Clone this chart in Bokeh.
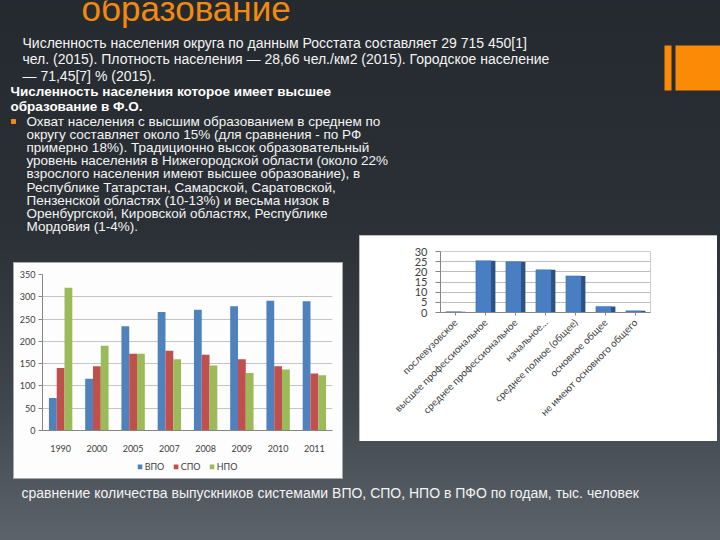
import numpy as np
from bokeh.plotting import figure
from bokeh.layouts import column, row
from bokeh.models import (ColumnDataSource, Range1d, FactorRange, Legend, LegendItem,
                          Spacer, SingleIntervalTicker)
from bokeh.transform import dodge
from bokeh.core.properties import value
from bokeh.embed import file_html
from bokeh.resources import INLINE

# ---------------- data ----------------
years = ["1990", "2000", "2005", "2007", "2008", "2009", "2010", "2011"]
vpo = [73, 116, 234, 266, 271, 279, 291, 290]
spo = [140, 144, 172, 179, 170, 160, 144, 128]
npo = [320, 190, 172, 160, 146, 129, 137, 124]
series_names = ["ВПО", "СПО", "НПО"]

edu_levels = ["послевузовское", "высшее профессиональное", "среднее профессиональное",
              "начальное...", "среднее полное (общее)", "основное общее",
              "не имеют основного общего"]
edu_share = [0.4, 25.5, 25.0, 21.0, 18.0, 3.0, 0.8]

title_text = "образование"
intro_lines = [
    "Численность населения округа по данным Росстата составляет 29 715 450[1]",
    "чел. (2015). Плотность населения — 28,66 чел./км2 (2015). Городское население",
    "— 71,45[7] % (2015).",
]
heading_lines = [
    "Численность населения которое имеет высшее",
    "образование в Ф.О.",
]
bullet_lines = [
    "Охват населения с  высшим образованием в среднем по",
    "округу составляет около 15% (для сравнения - по РФ",
    "примерно 18%). Традиционно высок образовательный",
    "уровень населения в Нижегородской области (около 22%",
    "взрослого населения имеют высшее образование), в",
    "Республике Татарстан, Самарской, Саратовской,",
    "Пензенской областях (10-13%) и весьма низок в",
    "Оренбургской, Кировской областях, Республике",
    "Мордовия (1-4%).",
]
caption_text = "сравнение количества выпускников системами ВПО, СПО, НПО в ПФО по годам, тыс. человек"

# ---------------- styles ----------------
ORANGE = "#F28A10"
TXT = "#f4f4f4"
FONT = value("Liberation Sans")
CHART_FONT = "Lato"
BLUE, RED, GREEN = "#4F81BD", "#C0504D", "#9BBB59"
PANEL = "#fdfdfd"
EDGE = "#a8a8a8"


def blank(width, height, x0, x1, y0, y1, alpha=0.0, fill=PANEL, styles=None):
    p = figure(width=width, height=height, x_range=Range1d(x0, x1), y_range=Range1d(y1, y0),
               output_backend="svg", toolbar_location=None,
               x_axis_location=None, y_axis_location=None,
               min_border=0, min_border_left=0, min_border_right=0,
               min_border_top=0, min_border_bottom=0, styles=styles or {})
    p.grid.visible = False
    p.outline_line_color = None
    p.background_fill_color = fill
    p.border_fill_color = fill
    p.background_fill_alpha = alpha
    p.border_fill_alpha = alpha
    return p


# ---------------- top text area (page y 0..235) ----------------
top = blank(720, 235, 0, 720, 0, 235)
top.text(x=[81], y=[8], text=[title_text], text_font=FONT, text_font_size="35px",
         text_color=ORANGE, text_baseline="middle")
top.text(x=[22] * len(intro_lines), y=[42 + 16.5 * i for i in range(len(intro_lines))],
         text=intro_lines, text_font=FONT, text_font_size="14px",
         text_color=TXT, text_baseline="middle")
top.text(x=[10] * len(heading_lines), y=[91 + 15 * i for i in range(len(heading_lines))],
         text=heading_lines, text_font=FONT, text_font_size="13.5px", text_font_style="bold",
         text_color="#ffffff", text_baseline="middle")
top.scatter(x=[13], y=[121], marker="square", size=4, color=ORANGE)
top.text(x=[26] * len(bullet_lines), y=[121 + 13.1 * i for i in range(len(bullet_lines))],
         text=bullet_lines, text_font=FONT, text_font_size="13.5px",
         text_color=TXT, text_baseline="middle")
top.quad(left=[664, 675], right=[671, 720], top=[45, 45], bottom=[90, 90],
         color="#FB8A06", line_color=None)

# ---------------- left chart (page x 14..342, y 263..454) ----------------
src = ColumnDataSource(dict(year=years, vpo=vpo, spo=spo, npo=npo))
lc = figure(width=328, height=191, x_range=FactorRange(*years), y_range=Range1d(0, 350),
            output_backend="svg", toolbar_location=None,
            min_border_left=28, min_border_right=10, min_border_top=11, min_border_bottom=24,
            border_fill_color=PANEL, background_fill_color=PANEL,
            outline_line_color=None)
w = 0.215
lc.vbar(x=dodge("year", -w, range=lc.x_range), top="vpo", width=w, source=src,
        fill_color=BLUE, line_color=None)
lc.vbar(x=dodge("year", 0, range=lc.x_range), top="spo", width=w, source=src,
        fill_color=RED, line_color=None)
lc.vbar(x=dodge("year", w, range=lc.x_range), top="npo", width=w, source=src,
        fill_color=GREEN, line_color=None)
lc.xgrid.grid_line_color = None
lc.ygrid.grid_line_color = "#c4c4c4"
lc.yaxis.ticker = SingleIntervalTicker(interval=50)
lc.yaxis.minor_tick_line_color = None
lc.yaxis.major_tick_in = 0
lc.yaxis.major_tick_out = 4
lc.yaxis.major_label_standoff = 3
lc.yaxis.major_tick_line_color = "#868686"
lc.xaxis.major_tick_line_color = None
lc.xaxis.major_label_standoff = 8
for ax in (lc.xaxis[0], lc.yaxis[0]):
    ax.axis_line_color = "#868686"
    ax.major_label_text_font = CHART_FONT
    ax.major_label_text_font_size = "9px"
    ax.major_label_text_color = "#404040"

# legend strip under the left chart (page y 454..478)
lf = blank(328, 24, 0, 1, 0, 1, alpha=1.0)
# legend swatches: renderers whose single point lies outside the strip's range
lsrc = ColumnDataSource(dict(x=[5.0], top=[5.0]))
lr = [lf.vbar(x="x", top="top", bottom=4.0, width=0.1, source=lsrc, fill_color=c,
              line_color=None) for c in (BLUE, RED, GREEN)]
legend = Legend(items=[LegendItem(label=n, renderers=[r]) for n, r in zip(series_names, lr)],
                orientation="horizontal", location="center",
                glyph_width=6, glyph_height=6, label_standoff=2, spacing=8,
                padding=0, margin=0, border_line_color=None, background_fill_alpha=0,
                label_text_font=CHART_FONT, label_text_font_size="9px",
                label_text_color="#404040", label_height=10)
lf.add_layout(legend, "center")

left_panel = column(lc, lf, styles={"background-color": PANEL,
                                    "outline": f"1px solid {EDGE}", "outline-offset": "0px"})

# ---------------- right chart (page x 359..717, y 235..441) ----------------
rsrc = ColumnDataSource(dict(level=edu_levels, share=edu_share))
rc = figure(width=358, height=206, x_range=FactorRange(*edu_levels), y_range=Range1d(0, 30),
            output_backend="svg", toolbar_location=None,
            min_border_left=81, min_border_right=67, min_border_top=16, min_border_bottom=129,
            border_fill_color="#ffffff", background_fill_color="#ffffff",
            outline_line_color=None,
            styles={"outline": f"1px solid {EDGE}", "outline-offset": "-1px"})
rc.vbar(x=dodge("level", 0.25, range=rc.x_range), top="share", width=0.16, source=rsrc,
        fill_color="#2A5286", line_color=None)
rc.vbar(x=dodge("level", -0.07, range=rc.x_range), top="share", width=0.5, source=rsrc,
        fill_color="#4A7EC2", line_color="#3A6AA8", line_width=0.5)
rc.xgrid.grid_line_color = None
rc.ygrid.grid_line_color = "#bdbdbd"
rc.yaxis.ticker = SingleIntervalTicker(interval=5)
rc.yaxis.minor_tick_line_color = None
rc.yaxis.major_tick_in = 0
rc.yaxis.major_tick_out = 5
rc.yaxis.major_label_standoff = 8
rc.yaxis.major_tick_line_color = "#868686"
rc.xaxis.major_tick_line_color = "#868686"
rc.xaxis.major_tick_in = 0
rc.xaxis.major_tick_out = 3
rc.xaxis.major_label_orientation = np.pi / 4
rc.xaxis.major_label_standoff = 5
for ax in (rc.xaxis[0], rc.yaxis[0]):
    ax.axis_line_color = "#868686"
    ax.major_label_text_font = CHART_FONT
    ax.major_label_text_color = "#404040"
rc.yaxis.major_label_text_font_size = "11px"
rc.xaxis.major_label_text_font_size = "10px"

# ---------------- caption (page y 478..540) ----------------
cap = blank(720, 62, 0, 720, 478, 540)
cap.text(x=[21], y=[492], text=[caption_text], text_font=FONT, text_font_size="14px",
         text_color=TXT, text_baseline="middle")

layout = column(
    top,
    row(Spacer(width=14, height=243),
        column(Spacer(width=328, height=28), left_panel),
        Spacer(width=17, height=243),
        column(rc, Spacer(width=358, height=37)),
        Spacer(width=3, height=243)),
    cap,
    styles={"background": "linear-gradient(to bottom, #252a2f 0%, #2a3035 42%, #40464d 75%, #5d636b 100%)"},
)

open("out.html", "w").write(file_html(layout, INLINE))
